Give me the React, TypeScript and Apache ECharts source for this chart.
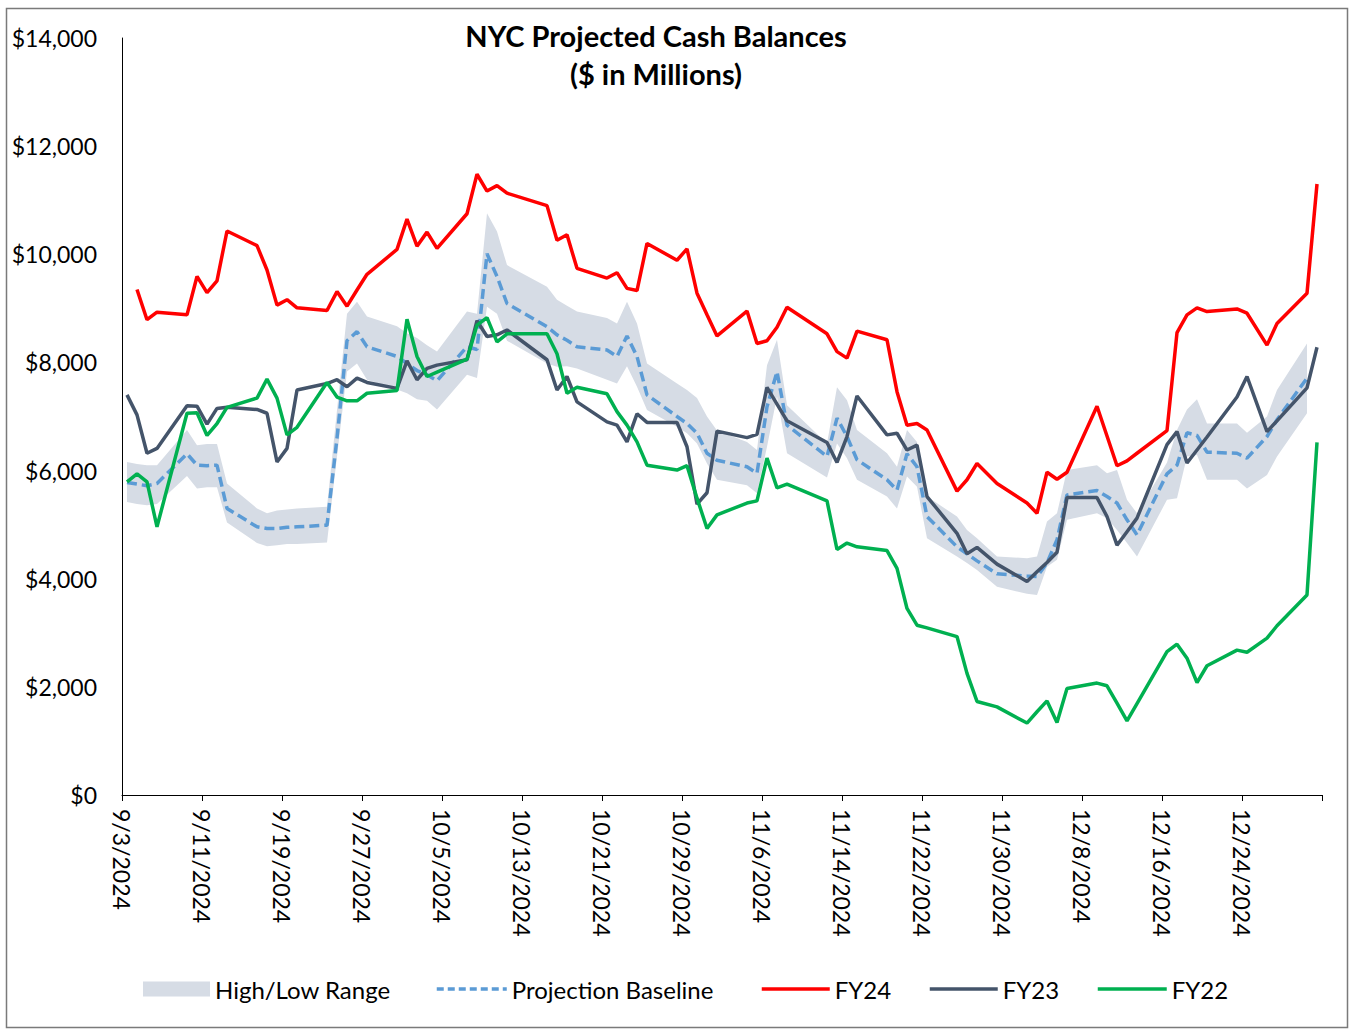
import React, { useEffect, useRef } from "react";
import * as echarts from "echarts";

const YEAR = 2024;
const FONT = "Lato, 'Liberation Sans', sans-serif";

// Business days shown (holidays 10/14, 11/11, 11/28, 12/25 absent)
const dates = [
  "9/3", "9/4", "9/5", "9/6", "9/9", "9/10", "9/11", "9/12", "9/13", "9/16", "9/17", "9/18", "9/19", "9/20", "9/23", "9/24", "9/25", "9/26", "9/27", "9/30",
  "10/1", "10/2", "10/3", "10/4", "10/7", "10/8", "10/9", "10/10", "10/11", "10/15", "10/16", "10/17", "10/18", "10/21", "10/22", "10/23", "10/24", "10/25", "10/28", "10/29", "10/30", "10/31",
  "11/1", "11/4", "11/5", "11/6", "11/7", "11/8", "11/12", "11/13", "11/14", "11/15", "11/18", "11/19", "11/20", "11/21", "11/22", "11/25", "11/26", "11/27", "11/29",
  "12/2", "12/3", "12/4", "12/5", "12/6", "12/9", "12/10", "12/11", "12/12", "12/13", "12/16", "12/17", "12/18", "12/19", "12/20", "12/23", "12/24", "12/26", "12/27", "12/30", "12/31",
];

const fy24 = [
  null, 9350, 8790, 8930, 8880, 9590, 9290, 9510, 10430, 10160, 9710, 9060, 9160, 9010, 8960, 9310, 9040, 9340, 9630, 10090,
  10650, 10150, 10410, 10110, 10750, 11480, 11170, 11270, 11130, 10900, 10260, 10360, 9740, 9560, 9660, 9370, 9330, 10200, 9890, 10100, 9280, 8880,
  8490, 8950, 8350, 8400, 8650, 9020, 8530, 8200, 8080, 8580, 8420, 7460, 6840, 6870, 6750, 5620, 5830, 6130, 5760,
  5400, 5210, 5970, 5840, 5970, 7190, 6640, 6090, 6180, 6320, 6740, 8550, 8880, 9010, 8940, 8990, 8910, 8320, 8720, 9280, 11300,
];

const fy23 = [
  7400, 7030, 6320, 6410, 7200, 7190, 6860, 7150, 7170, 7130, 7060, 6160, 6410, 7490, 7610, 7680, 7550, 7710, 7630, 7520,
  8030, 7680, 7890, 7950, 8050, 8770, 8480, 8510, 8600, 8050, 7490, 7740, 7270, 6900, 6840, 6530, 7050, 6890, 6890, 6440, 5380, 5590,
  6730, 6610, 6670, 7540, 7230, 6920, 6520, 6150, 6630, 7380, 6660, 6690, 6380, 6470, 5520, 4840, 4460, 4580, 4270,
  3950, 4130, 4300, 4490, 5500, 5500, 5150, 4620, 4870, 5120, 6480, 6720, 6140, 6380, 6620, 7360, 7740, 6720, 6920, 7530, 8280,
];

const fy22 = [
  5790, 5940, 5790, 4960, 7060, 7070, 6650, 6870, 7170, 7340, 7690, 7340, 6660, 6800, 7630, 7360, 7290, 7290, 7430, 7480,
  8800, 8110, 7740, 7820, 8060, 8690, 8830, 8380, 8530, 8530, 8160, 7430, 7540, 7420, 7090, 6840, 6530, 6100, 6010, 6090, 5490, 4930,
  5180, 5400, 5440, 6230, 5680, 5750, 5440, 4540, 4660, 4590, 4520, 4190, 3450, 3140, 3090, 2930, 2250, 1730, 1630,
  1330, 1540, 1740, 1340, 1970, 2070, 2020, 1700, 1370, 1690, 2650, 2790, 2530, 2080, 2390, 2680, 2640, 2900, 3130, 3700, 6520,
];

const baseline = [
  5780, 5750, 5720, 5760, 6310, 6100, 6090, 6100, 5300, 4960, 4930, 4930, 4950, 4960, 4990, 6600, 8400, 8570, 8290, 8110,
  7980, 7850, 7770, 7660, 8290, 8240, 10010, 9590, 9090, 8660, 8510, 8410, 8290, 8230, 8110, 8490, 8110, 7400, 7000, 6870, 6690, 6320,
  6190, 6070, 5950, 7180, 7830, 6840, 6260, 6970, 6630, 6200, 5830, 5640, 6310, 6070, 5150, 4590, 4460, 4330, 4090,
  4050, 4040, 4290, 4720, 5550, 5630, 5520, 5400, 5090, 4810, 5940, 6100, 6700, 6650, 6340, 6320, 6230, 6630, 6940, 7710, null,
];

const bandHigh = [
  6160, 6120, 6100, 6100, 6750, 6470, 6490, 6490, 5760, 5300, 5210, 5260, 5280, 5300, 5330, 7120, 8900, 9120, 8850, 8670,
  8540, 8450, 8320, 8200, 8940, 8900, 10760, 10420, 9800, 9400, 9160, 9050, 8940, 8820, 8720, 9120, 8720, 7980, 7610, 7490, 7340, 7000,
  6740, 6530, 6380, 7950, 8420, 7210, 6500, 7540, 7300, 6750, 6320, 6070, 6750, 6530, 5520, 5150, 4900, 4750, 4410,
  4380, 4410, 5060, 5210, 6010, 6100, 5950, 6010, 5460, 5210, 6150, 6750, 7130, 7320, 6870, 6870, 6700, 7000, 7490, 8350, null,
];

const bandLow = [
  5420, 5380, 5360, 5380, 5900, 5670, 5690, 5690, 5040, 4660, 4600, 4620, 4640, 4640, 4670, 6260, 7830, 7980, 7680, 7500,
  7430, 7320, 7290, 7130, 7770, 7710, 9030, 8900, 8400, 7980, 7920, 7930, 7890, 7680, 7610, 7930, 7550, 7120, 6810, 6690, 6500, 6130,
  5830, 5730, 5580, 6440, 7370, 6320, 5870, 6500, 6230, 5830, 5520, 5300, 5890, 5700, 4750, 4410, 4290, 4160, 3850,
  3720, 3700, 4220, 4350, 5090, 5210, 5120, 4900, 4660, 4410, 5460, 5490, 6260, 6290, 5830, 5830, 5670, 5920, 6260, 7060, null,
];

const DAY = 86400000;
const START = Date.UTC(YEAR, 8, 3);
const AXIS_DAYS = 120;

const dayIndex = (s: string) => {
  const [m, d] = s.split("/").map(Number);
  return Math.round((Date.UTC(YEAR, m - 1, d) - START) / DAY);
};
// Excel date axis: each point sits in the middle of its day
const xs = dates.map((s) => dayIndex(s) + 0.5);
const pairs = (vals: (number | null)[]) => vals.map((v, i) => [xs[i], v == null ? "-" : v]);
const bandRows = xs
  .map((x, i) => [x, bandLow[i], bandHigh[i]])
  .filter((r) => r[1] != null && r[2] != null) as number[][];

const fmtDate = (v: number) => {
  if (v >= AXIS_DAYS) return "";
  const dt = new Date(START + Math.round(v) * DAY);
  return `${dt.getUTCMonth() + 1}/${dt.getUTCDate()}/${dt.getUTCFullYear()}`;
};
const fmtMoney = (v: number) => "$" + v.toLocaleString("en-US");

export default function App() {
  const ref = useRef<HTMLDivElement>(null);

  useEffect(() => {
    if (!ref.current) return;
    const chart = echarts.init(ref.current, undefined, { renderer: "svg" });

    const textStyle = { fontSize: 23, color: "#000", fontFamily: FONT };
    const legendBase = {
      top: 977,
      padding: 0,
      itemHeight: 15,
      itemGap: 0,
      selectedMode: false,
      textStyle: { ...textStyle, fontSize: 24 },
    };
    const legendLine = (dashed = false) => ({
      itemStyle: { opacity: 0 },
      lineStyle: { width: 3.5, type: dashed ? [7, 4] : "solid" },
    });

    const lineSeries = (name: string, vals: (number | null)[], color: string, z: number, dashed = false) => ({
      name,
      type: "line",
      data: pairs(vals),
      symbol: "none",
      showSymbol: false,
      color,
      lineStyle: { color, width: 3.5, type: dashed ? [10, 5] : "solid" },
      z,
      silent: true,
    });

    chart.setOption({
      animation: false,
      backgroundColor: "#ffffff",
      textStyle: { fontFamily: FONT },
      grid: { left: 122, top: 38, width: 1200, height: 757, containLabel: false },
      xAxis: {
        type: "value",
        min: 0,
        max: AXIS_DAYS,
        interval: 8,
        axisLine: { show: true, onZero: false, lineStyle: { color: "#000", width: 1 } },
        axisTick: { show: true, length: 6, lineStyle: { color: "#000", width: 1 } },
        splitLine: { show: false },
        axisLabel: { ...textStyle, rotate: -90, margin: 14, formatter: fmtDate, showMaxLabel: true },
      },
      yAxis: {
        type: "value",
        min: 0,
        max: 14000,
        interval: 2000,
        axisLine: { show: true, onZero: false, lineStyle: { color: "#000", width: 1 } },
        axisTick: { show: false },
        splitLine: { show: false },
        axisLabel: { ...textStyle, margin: 25, formatter: fmtMoney },
      },
      legend: [
        { ...legendBase, left: 143, itemWidth: 67, data: [{ name: "High/Low Range", icon: "rect" }] },
        { ...legendBase, ...legendLine(true), left: 435, itemWidth: 70, data: ["Projection Baseline"] },
        { ...legendBase, ...legendLine(), left: 760, itemWidth: 68, data: ["FY24"] },
        { ...legendBase, ...legendLine(), left: 928, itemWidth: 68, data: ["FY23"] },
        { ...legendBase, ...legendLine(), left: 1096, itemWidth: 69, data: ["FY22"] },
      ],
      graphic: [
        {
          type: "rect",
          silent: true,
          shape: { x: 6.5, y: 8.5, width: 1341, height: 1019 },
          style: { fill: "none", stroke: "#7a7a7a", lineWidth: 1.5 },
        },
        {
          type: "text",
          x: 656,
          y: 35,
          style: {
            text: "NYC Projected Cash Balances",
            font: `bold 29px ${FONT}`,
            fill: "#000",
            textAlign: "center",
            textVerticalAlign: "middle",
          },
        },
        {
          type: "text",
          x: 656,
          y: 73,
          style: {
            text: "($ in Millions)",
            font: `bold 29px ${FONT}`,
            fill: "#000",
            textAlign: "center",
            textVerticalAlign: "middle",
          },
        },
      ],
      series: [
        {
          name: "High/Low Range",
          type: "custom",
          data: bandRows,
          encode: { x: 0, y: [1, 2] },
          color: "#D6DCE5",
          itemStyle: { color: "#D6DCE5" },
          silent: true,
          z: 1,
          renderItem: (params: any, api: any) => {
            if (params.dataIndex !== 0) return null;
            const top = bandRows.map((r) => api.coord([r[0], r[2]]));
            const bottom = bandRows.map((r) => api.coord([r[0], r[1]])).reverse();
            return {
              type: "polygon",
              shape: { points: top.concat(bottom) },
              style: { fill: "#D6DCE5", stroke: "none" },
            };
          },
        },
        lineSeries("Projection Baseline", baseline, "#5B9BD5", 2, true),
        lineSeries("FY24", fy24, "#FF0000", 3),
        lineSeries("FY23", fy23, "#44546A", 4),
        lineSeries("FY22", fy22, "#00B050", 5),
      ],
    });

    return () => chart.dispose();
  }, []);

  return (
    <div
      ref={ref}
      style={{ position: "absolute", left: 0, top: 0, width: 1351, height: 1030, background: "#fff" }}
    />
  );
}
